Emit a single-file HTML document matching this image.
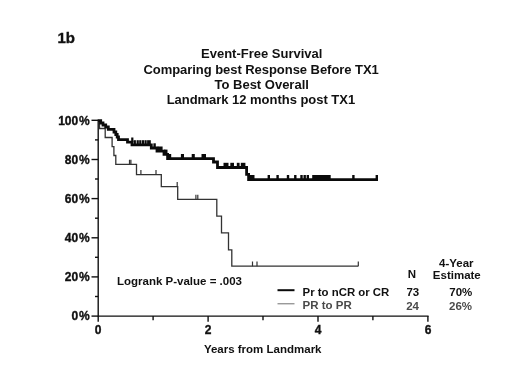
<!DOCTYPE html>
<html><head><meta charset="utf-8"><title>Event-Free Survival</title>
<style>
html,body{margin:0;padding:0;background:#fff;}
body{width:520px;height:390px;overflow:hidden;}
svg{display:block;}
text{font-family:"Liberation Sans",Arial,Helvetica,sans-serif;font-weight:bold;fill:#111;}
.h{stroke:#111;stroke-width:0.35px;}
</style></head><body>
<svg width="520" height="390" viewBox="0 0 520 390">
<rect width="520" height="390" fill="#fff"/>
<text class="h" x="57.5" y="43.4" font-size="15">1b</text>
<text x="261.7" y="58.4" font-size="13" text-anchor="middle">Event-Free Survival</text>
<text x="261.1" y="73.5" font-size="13" text-anchor="middle" textLength="235.4" lengthAdjust="spacing">Comparing best Response Before TX1</text>
<text x="261.7" y="88.7" font-size="13" text-anchor="middle">To Best Overall</text>
<text x="260.9" y="104.2" font-size="13" text-anchor="middle" textLength="188.5" lengthAdjust="spacing">Landmark 12 months post TX1</text>
<g stroke="#111" stroke-width="1.4" fill="none" stroke-linecap="butt">
<path d="M98.2 119.6 V316.1 H428.6"/>
<path d="M91.5 316.1 H98.2"/>
<path d="M95.0 296.5 H98.2"/>
<path d="M91.5 276.9 H98.2"/>
<path d="M95.0 257.3 H98.2"/>
<path d="M91.5 237.8 H98.2"/>
<path d="M95.0 218.2 H98.2"/>
<path d="M91.5 198.6 H98.2"/>
<path d="M95.0 179.0 H98.2"/>
<path d="M91.5 159.5 H98.2"/>
<path d="M95.0 139.9 H98.2"/>
<path d="M91.5 120.3 H98.2"/>
<path d="M98.2 316.1 V321.8"/>
<path d="M153.1 316.1 V320.3"/>
<path d="M208.1 316.1 V321.8"/>
<path d="M263.0 316.1 V320.3"/>
<path d="M318.0 316.1 V321.8"/>
<path d="M372.9 316.1 V320.3"/>
<path d="M427.9 316.1 V321.8"/>
</g>
<text class="h" x="89.7" y="320.4" font-size="12" text-anchor="end">0<tspan dx="0.8">%</tspan></text>
<text class="h" x="89.7" y="281.2" font-size="12" text-anchor="end">20<tspan dx="0.8">%</tspan></text>
<text class="h" x="89.7" y="242.1" font-size="12" text-anchor="end">40<tspan dx="0.8">%</tspan></text>
<text class="h" x="89.7" y="202.9" font-size="12" text-anchor="end">60<tspan dx="0.8">%</tspan></text>
<text class="h" x="89.7" y="163.8" font-size="12" text-anchor="end">80<tspan dx="0.8">%</tspan></text>
<text class="h" x="89.7" y="124.6" font-size="12" text-anchor="end">100<tspan dx="0.8">%</tspan></text>
<text class="h" x="98.2" y="333.9" font-size="12" text-anchor="middle">0</text>
<text class="h" x="208.2" y="333.9" font-size="12" text-anchor="middle">2</text>
<text class="h" x="318.1" y="333.9" font-size="12" text-anchor="middle">4</text>
<text class="h" x="428.0" y="333.9" font-size="12" text-anchor="middle">6</text>
<text x="262.7" y="353.4" font-size="11.5" text-anchor="middle">Years from Landmark</text>
<text x="117" y="284.7" font-size="11.5">Logrank P-value = .003</text>
<path d="M98.2 120.6 L99.5 120.6 L99.5 128.5 L105.2 128.5 L105.2 137.5 L112.1 137.5 L112.1 146.7 L113.9 146.7 L113.9 155.5 L115.8 155.5 L115.8 164.4 L136.5 164.4 L136.5 174.6 L161.3 174.6 L161.3 186.7 L177.7 186.7 L177.7 199.4 L216.8 199.4 L216.8 216.1 L221.5 216.1 L221.5 232.8 L228.5 232.8 L228.5 249.9 L231.8 249.9 L231.8 266.2 L358.3 266.2" fill="none" stroke="#333" stroke-width="1.3"/>
<path d="M129.5 164.4v-4.6 M130.9 164.4v-4.6 M140.9 174.6v-4.6 M156.0 174.6v-4.6 M177.2 186.7v-4.6 M195.9 199.4v-4.6 M197.8 199.4v-4.6 M252.5 266.2v-4.6 M257.0 266.2v-4.6 M358.3 266.2v-4.6" fill="none" stroke="#333" stroke-width="1.2"/>
<path d="M98.2 120.7 L100.7 120.7 L100.7 123.0 L103.0 123.0 L103.0 125.0 L105.7 125.0 L105.7 127.0 L108.3 127.0 L108.3 129.4 L114.0 129.4 L114.0 132.0 L115.8 132.0 L115.8 134.5 L117.2 134.5 L117.2 137.0 L118.5 137.0 L118.5 139.6 L127.5 139.6 L127.5 142.2 L132.0 142.2 L132.0 144.9 L151.3 144.9 L151.3 148.0 L157.0 148.0 L157.0 151.2 L164.0 151.2 L164.0 154.3 L167.6 154.3 L167.6 158.7 L213.5 158.7 L213.5 162.0 L217.5 162.0 L217.5 167.5 L246.6 167.5 L246.6 174.4 L248.6 174.4 L248.6 179.7 L378.0 179.7" fill="none" stroke="#0a0a0a" stroke-width="2.8" stroke-linejoin="miter"/>
<g fill="#0a0a0a"><rect x="131.2" y="137.5" width="2.2" height="4.7"/><rect x="133.7" y="140.2" width="2.2" height="4.7"/><rect x="136.6" y="140.2" width="2.2" height="4.7"/><rect x="139.2" y="140.2" width="2.2" height="4.7"/><rect x="141.9" y="140.2" width="2.2" height="4.7"/><rect x="144.5" y="140.2" width="2.2" height="4.7"/><rect x="147.1" y="140.2" width="3.7" height="4.7"/><rect x="153.4" y="143.3" width="2.4" height="4.7"/><rect x="157.7" y="146.5" width="4.9" height="4.7"/><rect x="163.8" y="149.6" width="3.7" height="4.7"/><rect x="168.8" y="154.0" width="2.4" height="4.7"/><rect x="180.9" y="154.0" width="3.1" height="4.7"/><rect x="191.7" y="154.0" width="3.1" height="4.7"/><rect x="201.5" y="154.0" width="4.5" height="4.7"/><rect x="223.5" y="162.8" width="5.0" height="4.7"/><rect x="230.3" y="162.8" width="3.7" height="4.7"/><rect x="236.8" y="162.8" width="2.8" height="4.7"/><rect x="240.8" y="162.8" width="4.6" height="4.7"/><rect x="249.6" y="175.0" width="4.9" height="4.7"/><rect x="267.6" y="175.0" width="2.4" height="4.7"/><rect x="276.4" y="175.0" width="2.4" height="4.7"/><rect x="286.8" y="175.0" width="2.4" height="4.7"/><rect x="294.1" y="175.0" width="2.4" height="4.7"/><rect x="300.3" y="175.0" width="2.4" height="4.7"/><rect x="303.5" y="175.0" width="2.4" height="4.7"/><rect x="306.6" y="175.0" width="2.4" height="4.7"/><rect x="312.2" y="175.0" width="18.5" height="4.7"/><rect x="352.2" y="175.0" width="2.4" height="4.7"/><rect x="375.6" y="175.0" width="2.4" height="4.7"/></g>
<path d="M277.5 290.2H294.5" stroke="#0a0a0a" stroke-width="2"/>
<path d="M277.5 303.8H294.5" stroke="#707070" stroke-width="1"/>
<text x="302.6" y="295.8" font-size="11.4">Pr to nCR or CR</text>
<text x="302.6" y="309.1" font-size="11.5" style="fill:#4a4a4a">PR to PR</text>
<text x="412.8" y="295.7" font-size="11.5" text-anchor="middle">73</text>
<text x="412.6" y="309.7" font-size="11.5" text-anchor="middle" style="fill:#4a4a4a">24</text>
<text x="460.8" y="295.7" font-size="11.5" text-anchor="middle">70%</text>
<text x="460.5" y="309.7" font-size="11.5" text-anchor="middle" style="fill:#4a4a4a">26%</text>
<text x="411.8" y="277.7" font-size="11.5" text-anchor="middle">N</text>
<text x="456.3" y="267.3" font-size="11.5" text-anchor="middle">4-Year</text>
<text x="456.8" y="279" font-size="11.5" text-anchor="middle">Estimate</text>
</svg>
</body></html>
